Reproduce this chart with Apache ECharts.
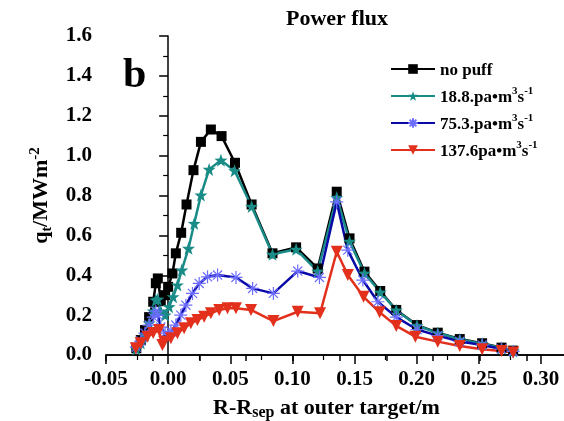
<!DOCTYPE html>
<html>
<head>
<meta charset="utf-8">
<script src="https://cdn.jsdelivr.net/npm/echarts@6/dist/echarts.min.js"></script>
<style>html,body{margin:0;padding:0;background:#fff;}#c{width:564px;height:421px;}</style>
</head>
<body>
<div id="c"></div>
<script>
// ---- data ----
var seriesNames = ['no puff', '18.8.pa•m3s-1', '75.3.pa•m3s-1', '137.6pa•m3s-1'];
var xTicks = ['-0.05', '0.00', '0.05', '0.10', '0.15', '0.20', '0.25', '0.30', '0.35'];
var yTicks = ['0.0', '0.2', '0.4', '0.6', '0.8', '1.0', '1.2', '1.4', '1.6'];

var xNoPuff = [-0.0256,-0.022,-0.0186,-0.0153,-0.012,-0.0099,-0.0083,-0.0059,-0.0024,0.0,0.0035,0.0062,0.0105,0.0148,0.0204,0.0264,0.0344,0.043,0.0538,0.0672,0.084,0.103,0.1204,0.1357,0.146,0.158,0.1707,0.1836,0.2003,0.217,0.2347,0.2527,0.2683,0.2777];
var yNoPuff = [0.034,0.075,0.125,0.19,0.267,0.36,0.384,0.27,0.30,0.342,0.409,0.51,0.613,0.755,0.927,1.069,1.131,1.098,0.964,0.755,0.51,0.54,0.434,0.819,0.585,0.418,0.321,0.226,0.15,0.112,0.08,0.059,0.037,0.022];

var x188 = [-0.0256,-0.022,-0.0186,-0.0153,-0.012,-0.0099,-0.0083,-0.0059,-0.0024,0.0008,0.004,0.0075,0.011,0.0164,0.021,0.0264,0.033,0.0425,0.0535,0.0672,0.084,0.103,0.1204,0.1357,0.146,0.158,0.1707,0.1836,0.2003,0.217,0.2347,0.2527,0.2683,0.2777];
var y188 = [0.03,0.06,0.10,0.16,0.22,0.276,0.28,0.22,0.20,0.242,0.292,0.351,0.426,0.535,0.66,0.802,0.931,0.977,0.924,0.745,0.505,0.53,0.42,0.79,0.57,0.41,0.315,0.225,0.148,0.11,0.078,0.057,0.035,0.02];

var x753 = [-0.0256,-0.022,-0.0186,-0.0153,-0.012,-0.0099,-0.0083,-0.0059,-0.0024,0.0022,0.0062,0.0102,0.0143,0.0196,0.025,0.0317,0.0398,0.0546,0.068,0.0847,0.1043,0.1218,0.1357,0.1446,0.1567,0.1688,0.1836,0.2003,0.217,0.2347,0.2527,0.2683,0.2777];
var y753 = [0.04,0.07,0.11,0.15,0.19,0.22,0.20,0.14,0.11,0.117,0.15,0.20,0.25,0.309,0.359,0.392,0.401,0.389,0.334,0.309,0.421,0.389,0.768,0.526,0.376,0.267,0.19,0.128,0.097,0.068,0.05,0.03,0.018];

var x1376 = [-0.026,-0.022,-0.0167,-0.012,-0.0073,-0.0046,-0.0032,0.0022,0.0075,0.0129,0.0183,0.0236,0.029,0.0344,0.0411,0.0478,0.0546,0.0667,0.0847,0.1043,0.1223,0.1357,0.1446,0.1573,0.1702,0.1836,0.199,0.217,0.2347,0.2527,0.2683,0.2777];
var y1376 = [0.034,0.059,0.092,0.11,0.125,0.05,0.067,0.084,0.109,0.134,0.159,0.175,0.192,0.209,0.226,0.234,0.234,0.226,0.17,0.217,0.209,0.518,0.401,0.292,0.214,0.146,0.092,0.067,0.045,0.029,0.02,0.013];

function pairs(xs, ys) { return xs.map(function (x, i) { return [x, ys[i]]; }); }

var FONT = '"Liberation Serif", "Times New Roman", serif';
var asterisk = 'path://M0,-10L0,10M-10,0L10,0M-7,-7L7,7M-7,7L7,-7';

var chart = echarts.init(document.getElementById('c'), null, {renderer: 'canvas'});
var legendRich = {
  n: {fontSize: 17, fontWeight: 'bold', fontFamily: FONT, color: '#000', lineHeight: 20, verticalAlign: 'bottom'},
  s: {fontSize: 11, fontWeight: 'bold', fontFamily: FONT, color: '#000', lineHeight: 11, verticalAlign: 'top'}
};
var legendLabels = {
  'no puff': '{n|no puff}',
  '18.8.pa•m3s-1': '{n|18.8.pa•m}{s|3}{n|s}{s|-1}',
  '75.3.pa•m3s-1': '{n|75.3.pa•m}{s|3}{n|s}{s|-1}',
  '137.6pa•m3s-1': '{n|137.6pa•m}{s|3}{n|s}{s|-1}'
};

chart.setOption({
  animation: false,
  backgroundColor: '#fff',
  title: {
    text: 'Power flux', left: 332, top: 3, textAlign: 'center',
    textStyle: {fontFamily: FONT, fontWeight: 'bold', fontSize: 22, color: '#000'}
  },
  legend: {
    orient: 'vertical', left: 385, top: 57, itemWidth: 44, itemHeight: 12, itemGap: 7,
    data: seriesNames,
    formatter: function (n) { return legendLabels[n]; },
    textStyle: {rich: legendRich, fontFamily: FONT, fontWeight: 'bold', fontSize: 17, color: '#000'}
  },
  grid: {left: 106, right: -39, top: 36, bottom: 66, containLabel: false, outerBoundsMode: 'none'},
  xAxis: [{
    type: 'value', min: -0.05, max: 0.35, interval: 0.05,
    axisLine: {show: true, onZero: false, lineStyle: {color: '#000', width: 1.5}},
    axisTick: {show: true, inside: false, length: 9, lineStyle: {color: '#000', width: 1.5}},
    minorTick: {show: true, splitNumber: 2, length: 5, lineStyle: {color: '#000', width: 1.2}},
    splitLine: {show: false},
    axisLabel: {margin: 14, fontFamily: FONT, fontWeight: 'bold', fontSize: 21, color: '#000',
      formatter: function (v) { var i = Math.round((v + 0.05) / 0.05); return xTicks[i] !== undefined ? xTicks[i] : ''; }},
    name: '{m|R-R}{b|sep}{m| at outer target/m}',
    nameLocation: 'middle', nameGap: 38,
    nameTextStyle: {padding: [0, 56, 0, 0], rich: {
      m: {fontFamily: FONT, fontWeight: 'bold', fontSize: 22, color: '#000', lineHeight: 24, verticalAlign: 'top'},
      b: {fontFamily: FONT, fontWeight: 'bold', fontSize: 16, color: '#000', lineHeight: 24, verticalAlign: 'bottom', padding: [10, 0, 0, 0]}
    }}
  }, {
    type: 'value', position: 'top', min: 0, max: 10.64, interval: 1,
    axisLine: {show: true, lineStyle: {color: '#000', width: 1.5}},
    axisTick: {show: true, inside: true, length: 6, lineStyle: {color: '#000', width: 1.5}},
    axisLabel: {show: false}, splitLine: {show: false}
  }],
  yAxis: {
    type: 'value', min: 0, max: 1.6, interval: 0.2,
    axisLine: {show: true, lineStyle: {color: '#000', width: 1.5}},
    axisTick: {show: true, inside: false, length: 9, lineStyle: {color: '#000', width: 1.5}},
    minorTick: {show: true, splitNumber: 2, length: 5, lineStyle: {color: '#000', width: 1.2}},
    splitLine: {show: false},
    axisLabel: {margin: 14, fontFamily: FONT, fontWeight: 'bold', fontSize: 21, color: '#000',
      formatter: function (v) { return yTicks[Math.round(v / 0.2)]; }},
    name: '{m|q}{b|t}{m|/MWm}{p|-2}',
    nameLocation: 'middle', nameGap: 52,
    nameTextStyle: {rich: {
      m: {fontFamily: FONT, fontWeight: 'bold', fontSize: 22, color: '#000', lineHeight: 26, verticalAlign: 'middle'},
      b: {fontFamily: FONT, fontWeight: 'bold', fontSize: 14, color: '#000', lineHeight: 26, verticalAlign: 'bottom'},
      p: {fontFamily: FONT, fontWeight: 'bold', fontSize: 15, color: '#000', lineHeight: 14, verticalAlign: 'top'}
    }}
  },
  graphic: [{
    type: 'text', left: 123, top: 55,
    style: {text: 'b', font: 'bold 42px ' + FONT, fill: '#000'}
  }],
  series: [{
    name: seriesNames[0], type: 'line', data: pairs(xNoPuff, yNoPuff),
    symbol: 'rect', symbolSize: 10,
    lineStyle: {color: '#000', width: 2.5}, itemStyle: {color: '#000'}
  }, {
    name: seriesNames[1], type: 'line', data: pairs(x188, y188),
    symbol: 'path://M0,-10L2.35,-3.24L9.51,-3.09L3.8,1.24L5.88,8.09L0,4L-5.88,8.09L-3.8,1.24L-9.51,-3.09L-2.35,-3.24Z', symbolSize: 13,
    lineStyle: {color: '#1a8c88', width: 2.5}, itemStyle: {color: '#1a8c88'}
  }, {
    name: seriesNames[2], type: 'line', data: pairs(x753, y753),
    symbol: asterisk, symbolSize: 13,
    lineStyle: {color: '#0a0aa8', width: 2.5},
    itemStyle: {color: 'rgba(0,0,0,0)', borderColor: '#6c6cff', borderWidth: 1.2}
  }, {
    name: seriesNames[3], type: 'line', data: pairs(x1376, y1376),
    symbol: 'triangle', symbolRotate: 180, symbolSize: 12,
    lineStyle: {color: '#e2301c', width: 2.5}, itemStyle: {color: '#e2301c'}
  }]
});
</script>
</body>
</html>
